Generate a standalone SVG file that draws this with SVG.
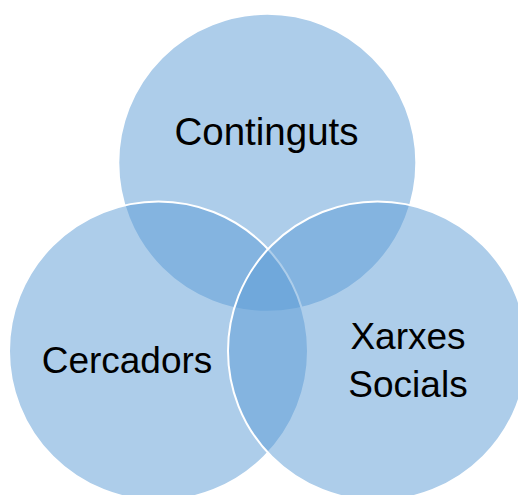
<svg xmlns="http://www.w3.org/2000/svg" width="518" height="495" viewBox="0 0 518 495">
<style>
.c{fill:#5B9BD5;fill-opacity:0.5;stroke:#FFFFFF;stroke-width:2}
.t{font-family:"Liberation Sans",Arial,sans-serif;font-size:37px;fill:#000000;text-anchor:middle}
</style>
<rect width="518" height="495" fill="#FFFFFF"/>
<g id="continguts">
<circle class="c" cx="267.3" cy="162.8" r="149"/>
<text class="t" x="266.5" y="145" style="font-size:38.5px">Continguts</text>
</g>
<g id="cercadors">
<circle class="c" cx="158.5" cy="351" r="149.5"/>
<text class="t" x="127" y="373">Cercadors</text>
</g>
<g id="xarxes-socials">
<circle class="c" cx="377.5" cy="351" r="149.5"/>
<text class="t" x="408" y="349">Xarxes</text>
<text class="t" x="408" y="397">Socials</text>
</g>
<g id="connectors"></g>
</svg>
